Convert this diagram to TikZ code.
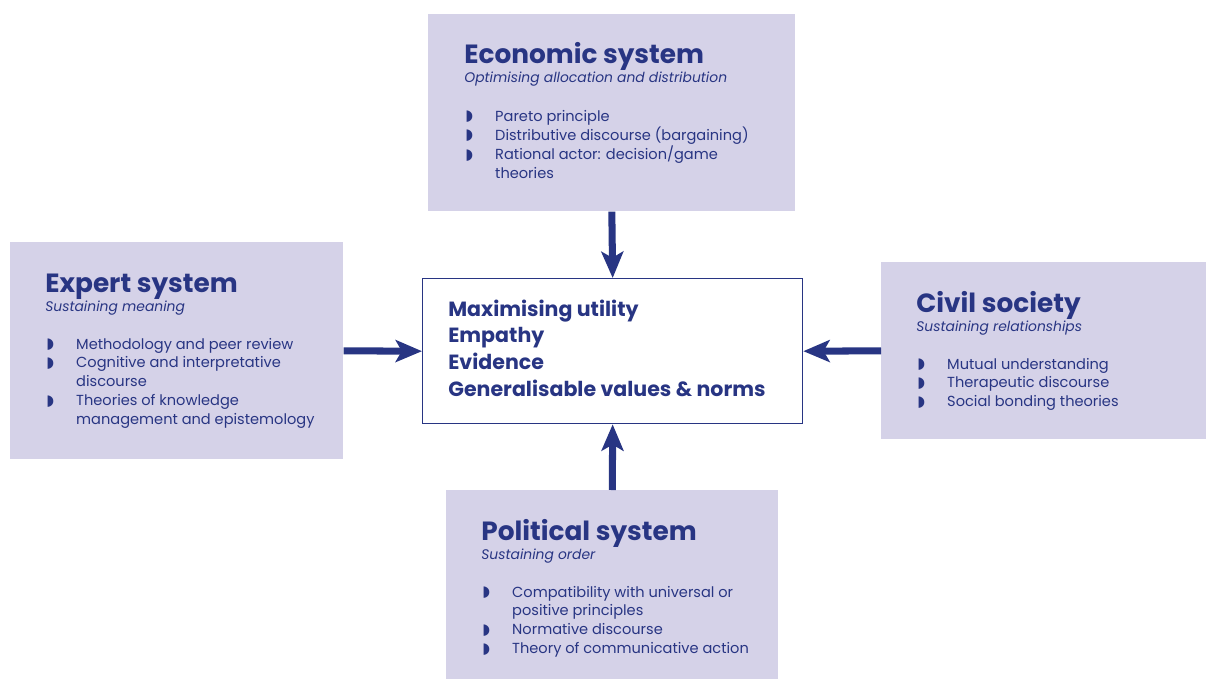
\documentclass[tikz,border=0pt]{standalone}
\usepackage{fontspec}
\setmainfont{Poppins}
\newfontfamily\symfont{DejaVu Sans}
\usetikzlibrary{arrows.meta,positioning,calc}
\definecolor{navy}{HTML}{283583}
\definecolor{lilac}{HTML}{D5D2E8}
\newcommand{\bul}{\makebox[17pt][l]{\raisebox{0.3pt}{\symfont\fontsize{8.5}{8.5}\selectfont ◗}}}
\tikzset{
	panel/.style={fill=lilac, anchor=north west, inner sep=0pt},
	ttl/.style={anchor=base west, inner sep=0pt, text=navy, font=\bfseries\fontsize{15}{15}\selectfont},
	sub/.style={anchor=base west, inner sep=0pt, text=navy, font=\itshape\fontsize{7.9}{9}\selectfont},
	lst/.style={anchor=base west, inner sep=0pt, text=navy, font=\fontsize{8.3}{10.8}\selectfont},
	flow/.style={draw=navy, line width=4pt, -{Stealth[length=15pt,width=12.5pt,inset=3.5pt]}}
}

\begin{document}
\begin{tikzpicture}[x=0.02cm, y=-0.02cm]
				\useasboundingbox (0,0) rectangle (1206,679);
				\node[panel, minimum width=7.34cm, minimum height=3.94cm] (eco) at (428,14) {};
				\node[panel, minimum width=6.66cm, minimum height=4.34cm] (exp) at (10,242) {};
				\node[panel, minimum width=6.5cm, minimum height=3.54cm] (civ) at (881,262) {};
				\node[panel, minimum width=6.64cm, minimum height=3.78cm] (pol) at (446,490) {};
				\node[panel, fill=white, draw=navy, line width=0.8pt, minimum width=7.6cm, minimum height=2.9cm] (core) at (422,278) {};

				\node[ttl] (ecoT) at ($(eco.north west)+(36,50)$) {Economic system};
				\node[sub] (ecoS) at ($(ecoT.base west)+(0,19)$) {Optimising allocation and distribution};
				\node[lst] (ecoL) at ($(ecoT.base west)+(1,57)$) {\begin{tabular}[t]{@{}l@{}l@{}}
					\bul & Pareto principle\\
					\bul & Distributive discourse (bargaining)\\
					\bul & Rational actor: decision/game\\
					& theories
				\end{tabular}};

				\node[ttl] (expT) at ($(exp.north west)+(35,50)$) {Expert system};
				\node[sub] (expS) at ($(expT.base west)+(0,19)$) {Sustaining meaning};
				\node[lst] (expL) at ($(expT.base west)+(1,57)$) {\begin{tabular}[t]{@{}l@{}l@{}}
					\bul & Methodology and peer review\\
					\bul & Cognitive and interpretative\\
					& discourse\\
					\bul & Theories of knowledge\\
					& management and epistemology
				\end{tabular}};

				\node[ttl] (civT) at ($(civ.north west)+(35,50)$) {Civil society};
				\node[sub] (civS) at ($(civT.base west)+(0,19)$) {Sustaining relationships};
				\node[lst] (civL) at ($(civT.base west)+(1,57)$) {\begin{tabular}[t]{@{}l@{}l@{}}
					\bul & Mutual understanding\\
					\bul & Therapeutic discourse\\
					\bul & Social bonding theories
				\end{tabular}};

				\node[ttl] (polT) at ($(pol.north west)+(35,50)$) {Political system};
				\node[sub] (polS) at ($(polT.base west)+(0,19)$) {Sustaining order};
				\node[lst] (polL) at ($(polT.base west)+(1,57)$) {\begin{tabular}[t]{@{}l@{}l@{}}
					\bul & Compatibility with universal or\\
					& positive principles\\
					\bul & Normative discourse\\
					\bul & Theory of communicative action
				\end{tabular}};

				\node[anchor=base west, inner sep=0pt, text=navy, font=\bfseries\fontsize{11.7}{15.3}\selectfont] (coreT) at (448,316) {\begin{tabular}[t]{@{}l@{}}
					Maximising utility\\
					Empathy\\
					Evidence\\
					Generalisable values \& norms
				\end{tabular}};

				\draw[flow] (eco.south) -- (core.north);
				\draw[flow] (pol.north) -- (core.south);
				\draw[flow] (exp.east) -- (core.west);
				\draw[flow] (civ.west) -- (core.east);
			\end{tikzpicture}
\end{document}
